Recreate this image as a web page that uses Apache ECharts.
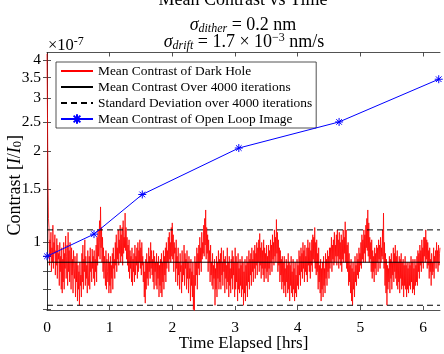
<!DOCTYPE html>
<html><head><meta charset="utf-8">
<script src="https://cdn.jsdelivr.net/npm/echarts@6/dist/echarts.min.js"></script>
<style>html,body{margin:0;padding:0;background:#fff}#c{width:444px;height:354px}</style>
</head><body><div id="c"></div>
<script>
// Values in units of 1e-7 (the axis carries the ×10^-7 multiplier)
const darkHoleContrast = [
4.2,2.6,1.6,1.2,
1.12,0.84,1.02,0.9,1.08,0.8,0.96,0.86,1.14,0.82,1.0,0.92,1.06,0.78,0.94,0.84,1.03,0.76,0.98,0.88,0.92,0.72,1.0,0.8,0.9,0.7,0.96,0.68,
0.88,0.74,1.0,0.7,0.92,0.82,1.05,0.76,0.9,0.98,0.72,1.08,0.8,0.94,0.74,1.0,0.86,0.7,0.96,0.78,0.88,0.68,0.94,0.82,0.76,0.9,0.66,0.86,0.74,0.92,0.64,0.84,
0.7,0.8,0.62,0.86,0.72,0.78,0.66,0.92,0.74,0.98,0.7,0.88,0.8,1.02,0.72,0.9,0.76,0.84,0.68,0.94,0.78,0.72,0.9,0.7,0.96,0.8,0.86,0.74,0.95,0.82,0.9,0.76,
0.94,0.72,0.88,0.8,0.98,0.74,1.04,0.84,1.1,0.9,1.0,1.18,0.88,1.31,0.96,1.12,0.86,1.04,0.8,0.96,0.76,0.9,0.84,0.72,0.94,0.7,0.88,0.8,0.74,0.92,0.68,0.86,
0.72,0.9,0.68,0.84,0.76,0.92,0.7,0.96,0.82,0.88,0.76,1.0,0.84,1.06,0.8,0.96,0.88,1.1,0.84,1.02,0.92,1.14,0.86,1.06,0.9,1.12,0.84,1.18,0.92,1.04,0.96,1.25,
0.94,1.12,0.88,1.04,0.84,0.98,0.8,1.02,0.76,0.94,0.82,0.9,0.74,0.96,0.72,0.88,0.8,0.92,0.74,0.98,0.78,0.9,0.84,0.96,0.76,1.0,0.8,0.94,0.86,1.02,0.82,0.96,
0.78,1.0,0.84,0.9,0.74,0.86,0.66,0.8,0.63,0.88,0.7,0.92,0.76,0.86,0.72,0.96,0.8,0.9,0.76,1.0,0.82,0.94,0.78,0.88,0.74,0.94,0.7,0.9,0.8,0.86,0.72,0.92,
0.7,0.86,0.76,0.9,0.66,0.84,0.72,0.88,0.68,0.92,0.66,0.86,0.74,0.94,0.7,0.9,0.78,0.96,0.74,1.0,0.82,0.94,0.86,1.04,0.8,1.08,0.88,1.0,0.86,1.12,0.9,1.16,
0.88,1.06,0.8,1.0,0.92,0.96,0.74,1.02,0.82,0.9,0.72,0.96,0.78,0.86,0.7,0.92,0.8,0.84,0.68,0.94,0.74,0.86,0.78,0.98,0.72,0.92,0.82,0.88,0.7,0.94,0.76,0.86,
0.68,0.9,0.76,0.82,0.64,0.88,0.72,0.8,0.66,0.86,0.6,0.78,0.59,0.9,0.72,0.86,0.78,0.96,0.7,0.92,0.82,0.98,0.78,1.04,0.86,0.96,0.8,1.08,0.88,1.0,0.92,1.14,
0.9,1.2,0.98,1.28,0.88,1.12,0.92,1.06,0.8,1.02,0.86,0.94,0.74,0.98,0.78,0.86,0.72,0.92,0.7,0.84,0.76,0.88,0.62,0.82,0.7,0.9,0.66,0.86,0.76,0.94,0.7,0.88,
0.74,0.92,0.7,0.96,0.78,0.86,0.72,0.94,0.8,0.88,0.68,0.9,0.76,0.84,0.7,0.96,0.74,0.86,0.66,0.9,0.72,0.82,0.68,0.88,0.76,0.94,0.7,0.9,0.78,0.86,0.66,0.96,
0.7,0.9,0.74,0.86,0.64,0.92,0.7,0.82,0.68,0.88,0.72,0.84,0.66,0.9,0.7,0.86,0.62,0.8,0.68,0.88,0.64,0.84,0.72,0.9,0.66,0.86,0.74,0.94,0.7,0.88,0.78,0.92,
0.72,0.96,0.8,0.88,0.74,0.94,0.82,0.98,0.76,0.92,0.84,1.0,0.78,0.96,0.86,1.02,0.8,1.07,0.84,0.96,0.76,1.0,0.82,0.94,0.78,1.02,0.74,0.96,0.82,0.92,0.76,0.98,
0.8,0.9,0.74,0.98,0.82,0.94,0.78,1.02,0.86,0.98,0.8,1.06,0.88,1.0,0.84,1.1,0.9,1.04,0.86,1.19,0.92,1.08,0.8,1.02,0.84,0.96,0.74,0.94,0.78,0.88,0.7,0.9,
0.74,0.86,0.68,0.9,0.72,0.82,0.66,0.88,0.74,0.84,0.68,0.92,0.7,0.86,0.64,0.84,0.72,0.9,0.68,0.8,0.66,0.88,0.7,0.82,0.64,0.86,0.68,0.78,0.66,0.88,0.72,0.84,
0.7,0.94,0.78,0.9,0.72,0.96,0.8,0.92,0.76,1.0,0.82,0.94,0.74,0.98,0.8,0.9,0.78,0.96,0.74,1.02,0.84,0.96,0.8,1.0,0.76,0.94,0.84,1.02,0.8,1.06,0.88,1.04,
0.86,1.12,0.82,1.0,0.78,1.02,0.8,0.92,0.7,0.96,0.74,0.84,0.68,0.88,0.64,0.82,0.7,0.86,0.66,0.9,0.72,0.82,0.68,0.92,0.76,0.88,0.72,0.94,0.8,0.9,0.76,0.96,
0.82,0.96,0.86,1.04,0.8,0.98,0.88,1.02,0.84,1.08,0.86,0.98,0.9,1.06,0.84,1.1,0.9,1.02,0.82,1.08,0.88,1.0,0.84,1.06,0.8,1.02,0.88,1.1,0.86,1.04,0.92,1.17,
0.86,1.1,0.82,0.98,0.8,1.0,0.72,0.92,0.74,0.84,0.68,0.88,0.64,0.82,0.62,0.86,0.7,0.8,0.66,0.9,0.74,0.84,0.72,0.92,0.78,0.88,0.76,0.96,0.8,0.92,0.84,1.0,
0.82,1.06,0.88,1.02,0.86,1.1,0.92,1.06,0.86,1.14,0.96,1.2,0.94,1.28,0.9,1.16,0.86,1.04,0.88,1.0,0.8,1.02,0.76,0.94,0.8,0.9,0.74,0.96,0.82,0.92,0.78,0.98,
0.86,0.96,0.8,1.02,0.88,0.98,0.82,1.04,0.86,0.96,0.9,1.1,0.88,1.25,0.82,1.0,0.72,0.92,0.68,0.88,0.62,0.84,0.7,0.82,0.74,0.9,0.68,0.88,0.76,0.92,0.7,0.86,
0.78,0.96,0.74,0.92,0.8,0.98,0.76,0.9,0.72,0.94,0.7,0.86,0.74,0.9,0.68,0.88,0.76,0.92,0.7,0.86,0.72,0.88,0.66,0.84,0.72,0.9,0.7,0.84,0.66,0.86,0.7,0.82,
0.68,0.86,0.72,0.84,0.7,0.9,0.74,0.86,0.68,0.88,0.7,0.82,0.67,0.88,0.72,0.84,0.74,0.9,0.72,0.94,0.8,0.92,0.76,0.98,0.84,0.94,0.8,1.02,0.86,0.96,0.82,1.04,
0.9,1.04,0.86,1.1,0.88,1.02,0.82,1.0,0.84,0.94,0.76,0.96,0.8,0.88,0.72,0.92,0.78,0.86,0.8,0.96,0.76,0.9,0.86,0.94,0.82,1.0,0.86,0.94,0.8,0.98,0.84,0.92,0.96
];
const runHours = 6.27;           // total elapsed time of the 4000 iterations
const meanContrast = 0.86;
const stdUpper = 1.10;
const stdLower = 0.62;
const openLoopTime = [0, 0.75, 1.52, 3.06, 4.66, 6.25];
const openLoopContrast = [0.90, 1.065, 1.44, 2.05, 2.50, 3.46];
const xTickLabels = [0, 1, 2, 3, 4, 5, 6];
const yTickLabels = [1, 1.5, 2, 2.5, 3, 3.5, 4];
const yMinorTicks = [0.6, 0.7, 0.8, 0.9];
const seriesNames = ['Mean Contrast of Dark Hole', 'Mean Contrast Over 4000 iterations',
  'Standard Deviation over 4000 iterations', 'Mean Contrast of Open Loop Image'];

const SERIF = "'Liberation Serif','DejaVu Serif',serif";
const AX = '#262626';
const dt = runHours / (darkHoleContrast.length - 1);
const darkData = darkHoleContrast.map((v, i) => [i * dt, v]);
const openData = openLoopTime.map((t, i) => [t, openLoopContrast[i]]);

const chart = echarts.init(document.getElementById('c'), null, {renderer: 'canvas'});
const xBase = {
  type: 'value', min: 0, max: runHours, interval: 1,
  axisLine: {show: true, lineStyle: {color: AX, width: 0.8}},
  axisTick: {show: true, inside: true, length: 4, customValues: xTickLabels, lineStyle: {color: AX, width: 0.8}},
  splitLine: {show: false}
};
const yBase = {
  type: 'log', logBase: 10, min: 0.598, max: 4.24,
  axisLine: {show: true, lineStyle: {color: AX, width: 0.8}},
  axisTick: {show: true, inside: true, length: 4, customValues: yMinorTicks.concat(yTickLabels), lineStyle: {color: AX, width: 0.8}},
  splitLine: {show: false}, minorTick: {show: false}
};
const TF = 18;
const rich = {
  it: {fontFamily: SERIF, fontStyle: 'italic', fontSize: TF, color: '#000'},
  sub: {fontFamily: SERIF, fontStyle: 'italic', fontSize: 12, color: '#000', verticalAlign: 'bottom', lineHeight: 12},
  sup: {fontFamily: SERIF, fontSize: 12, color: '#000', verticalAlign: 'top', lineHeight: 12},
  n: {fontFamily: SERIF, fontSize: TF, color: '#000'}
};
const nameRich = {
  it: {fontFamily: SERIF, fontStyle: 'italic', fontSize: 18, color: '#000'},
  subr: {fontFamily: SERIF, fontSize: 12.5, color: '#000', verticalAlign: 'bottom', lineHeight: 12}
};
chart.setOption({
  animation: false,
  backgroundColor: '#fff',
  title: [
    {text: 'Mean Contrast vs Time', left: 243, top: -9, textAlign: 'center', padding: 0,
     textStyle: {fontFamily: SERIF, fontWeight: 'normal', fontSize: TF, lineHeight: 18, color: '#000'}},
    {text: '{it|σ}{sub|dither}{n| = 0.2 nm}', left: 243, top: 15, textAlign: 'center', padding: 0,
     textStyle: {fontFamily: SERIF, fontWeight: 'normal', fontSize: TF, lineHeight: 20, rich: rich}},
    {text: '{it|σ}{sub|drift}{n| = 1.7 × 10}{sup|−3}{n| nm/s}', left: 244, top: 32, textAlign: 'center', padding: 0,
     textStyle: {fontFamily: SERIF, fontWeight: 'normal', fontSize: 18.5, lineHeight: 20, rich: rich}},
    {text: '×10{sup|-7}', left: 48, top: 36, padding: 0,
     textStyle: {fontFamily: SERIF, fontWeight: 'normal', fontSize: 16.5, lineHeight: 19, color: '#000',
       rich: {sup: {fontFamily: SERIF, fontSize: 12, color: '#000', verticalAlign: 'top', lineHeight: 12}}}}
  ],
  grid: {left: 47, right: 4, top: 52.5, bottom: 44, containLabel: false, outerBoundsMode: 'none'},
  legend: {
    orient: 'vertical', left: 56, top: 62, padding: [2, 4, 2, 4], itemGap: 2,
    itemWidth: 32, itemHeight: 12,
    borderColor: AX, borderWidth: 0.8, backgroundColor: '#fff', borderRadius: 0,
    textStyle: {fontFamily: SERIF, fontSize: 13.4, lineHeight: 14, color: '#000'},
    data: [
      {name: seriesNames[0], itemStyle: {color: 'rgba(0,0,0,0)', borderColor: 'rgba(0,0,0,0)', borderWidth: 0}},
      {name: seriesNames[1], itemStyle: {color: 'rgba(0,0,0,0)', borderColor: 'rgba(0,0,0,0)', borderWidth: 0}},
      {name: seriesNames[2], itemStyle: {color: 'rgba(0,0,0,0)', borderColor: 'rgba(0,0,0,0)', borderWidth: 0}},
      {name: seriesNames[3]}
    ]
  },
  xAxis: [
    Object.assign({}, xBase, {position: 'bottom',
      name: 'Time Elapsed [hrs]', nameLocation: 'middle', nameGap: 25, nameMoveOverlap: false,
      nameTextStyle: {fontFamily: SERIF, fontSize: 17, color: '#000'},
      axisLabel: {show: true, customValues: xTickLabels, margin: 10, fontFamily: SERIF, fontSize: 15.5, color: '#000'}}),
    Object.assign({}, xBase, {position: 'top', axisLabel: {show: false}})
  ],
  yAxis: [
    Object.assign({}, yBase, {position: 'left',
      name: 'Contrast [{it|I}/{it|I}{subr|0}]', nameLocation: 'middle', nameGap: 23, nameRotate: 90, nameMoveOverlap: false,
      nameTextStyle: {fontFamily: SERIF, fontSize: 18, color: '#000', rich: nameRich, padding: [0, 8, 0, 0]},
      axisLabel: {show: true, customValues: yTickLabels, margin: 6, fontFamily: SERIF, fontSize: 15.5, color: '#000'}}),
    Object.assign({}, yBase, {position: 'right', axisLabel: {show: false}})
  ],
  series: [
    {name: seriesNames[0], type: 'line', data: darkData, showSymbol: false, symbol: 'none',
     lineStyle: {color: '#ff0000', width: 0.8}, itemStyle: {color: '#ff0000'}, z: 2},
    {name: seriesNames[1], type: 'line', data: [[0, meanContrast], [runHours, meanContrast]], symbol: 'none',
     lineStyle: {color: '#000', width: 1}, itemStyle: {color: '#000'}, z: 3},
    {name: seriesNames[2], type: 'line', data: [[0, stdUpper], [runHours, stdUpper]], symbol: 'none',
     lineStyle: {color: '#000', width: 1, type: [6, 4]}, itemStyle: {color: '#000'}, z: 3},
    {name: seriesNames[2], type: 'line', data: [[0, stdLower], [runHours, stdLower]], symbol: 'none',
     lineStyle: {color: '#000', width: 1, type: [6, 4]}, itemStyle: {color: '#000'}, z: 3},
    {name: seriesNames[3], type: 'line', data: openData,
     symbol: 'path://M0,-10L0,10M-10,0L10,0M-7,-7L7,7M-7,7L7,-7', symbolSize: 8, showSymbol: true,
     lineStyle: {color: '#0000ff', width: 1}, itemStyle: {color: '#0000ff', borderColor: '#0000ff', borderWidth: 1}, z: 4}
  ]
});
</script></body></html>
